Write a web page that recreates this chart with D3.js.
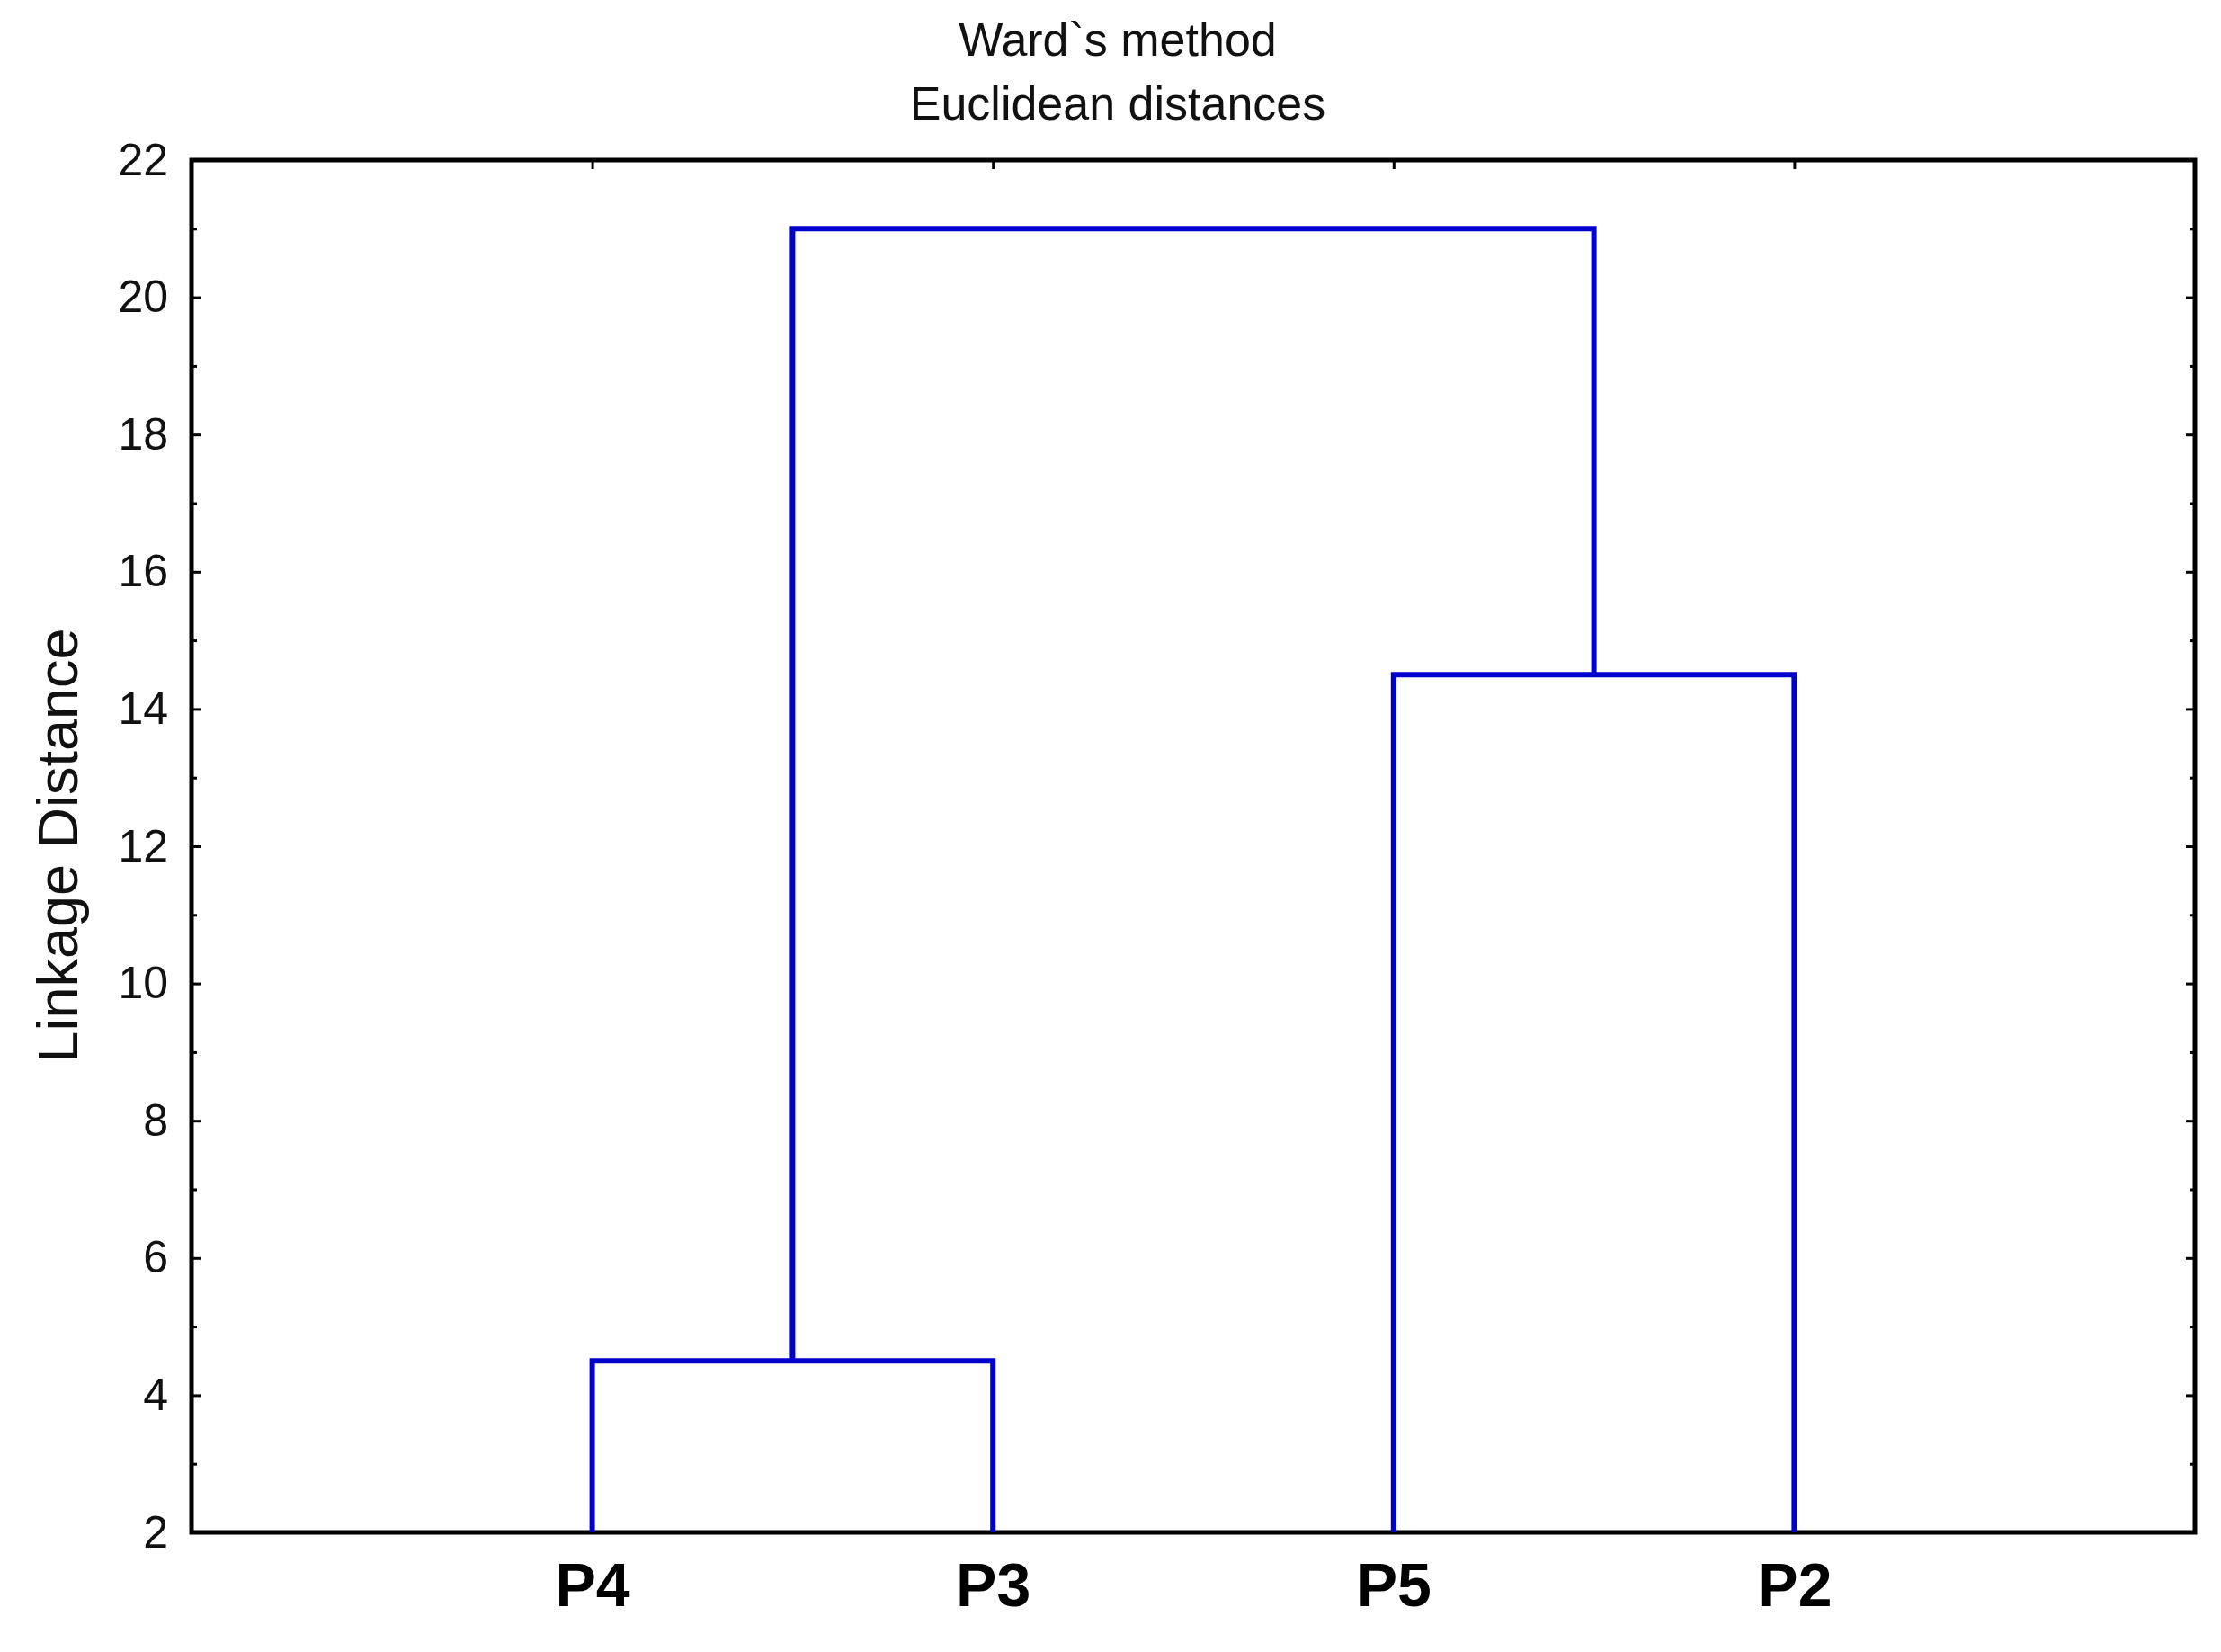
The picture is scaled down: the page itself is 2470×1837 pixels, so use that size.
<!DOCTYPE html>
<html>
<head>
<meta charset="utf-8">
<script src="https://cdn.jsdelivr.net/npm/d3@7"></script>
<style>
  body { margin: 0; background: #fff; }
  svg { display: block; font-family: "Liberation Sans", Arial, sans-serif; }
</style>
</head>
<body>
<svg id="chart"></svg>
<script>
// leaves in the order they appear on the x axis
var leaves = ["P4", "P3", "P5", "P2"];
// each join: the two members and the linkage distance where they join
var joinLeft = ["P4", "P5", "C1"];
var joinRight = ["P3", "P2", "C2"];
var joinHeight = [4.5, 14.5, 21.0];
var joinName = ["C1", "C2", "C3"];
var yTicks = [2, 4, 6, 8, 10, 12, 14, 16, 18, 20, 22];
var yMinor = [3, 5, 7, 9, 11, 13, 15, 17, 19, 21];
var titleLines = ["Ward`s method", "Euclidean distances"];

var W = 2470, H = 1837;
var margin = { top: 178, right: 29, bottom: 133, left: 213 };
var w = W - margin.left - margin.right,
    h = H - margin.top - margin.bottom;

var svg = d3.select("#chart").attr("width", W).attr("height", H);
var g = svg.append("g").attr("transform", `translate(${margin.left}, ${margin.top})`);

var x_scale = d3.scaleLinear().domain([0, leaves.length + 1]).range([0, w]);
var y_scale = d3.scaleLinear().domain([2, 22]).range([h, 0]);

// position of every node: leaves sit on the axis floor
var pos = {};
leaves.forEach((d, i) => { pos[d] = { x: i + 1, y: y_scale.domain()[0] }; });
var links = joinName.map((name, i) => {
  var a = pos[joinLeft[i]], b = pos[joinRight[i]];
  pos[name] = { x: (a.x + b.x) / 2, y: joinHeight[i] };
  return { a: a, b: b, h: joinHeight[i] };
});

// axes
var leftAxis = g.append("g").attr("class", "y_axis_g")
  .call(d3.axisLeft(y_scale).tickValues(yTicks).tickSize(-10).tickPadding(26));
g.append("g").call(d3.axisLeft(y_scale).tickValues(yMinor).tickSize(-6).tickFormat(""));
g.append("g").attr("transform", `translate(${w},0)`)
  .call(d3.axisRight(y_scale).tickValues(yTicks).tickSize(-10).tickFormat(""));
g.append("g").attr("transform", `translate(${w},0)`)
  .call(d3.axisRight(y_scale).tickValues(yMinor).tickSize(-6).tickFormat(""));
g.append("g")
  .call(d3.axisTop(x_scale).tickValues(leaves.map((d, i) => i + 1)).tickSize(-10).tickFormat(""));
var bottomAxis = g.append("g").attr("class", "x_axis_g").attr("transform", `translate(0, ${h})`)
  .call(d3.axisBottom(x_scale).tickValues(leaves.map((d, i) => i + 1))
    .tickSize(-10).tickPadding(34).tickFormat(d => leaves[d - 1]));

g.selectAll(".domain").remove();
g.selectAll(".tick line").attr("stroke", "#000").attr("stroke-width", 3);
leftAxis.selectAll("text").style("font-size", "50px").attr("fill", "#111");
bottomAxis.selectAll("text").style("font-size", "68px").style("font-weight", "bold")
  .attr("fill", "#000").attr("dy", "0.71em");

// frame
g.append("rect").attr("x", 0).attr("y", 0).attr("width", w).attr("height", h)
  .attr("fill", "none").attr("stroke", "#000").attr("stroke-width", 5);

// dendrogram elbows
g.selectAll(".link")
  .data(links)
  .join("path")
  .attr("class", "link")
  .attr("d", d => {
    var path = d3.path();
    path.moveTo(x_scale(d.a.x), y_scale(d.a.y));
    path.lineTo(x_scale(d.a.x), y_scale(d.h));
    path.lineTo(x_scale(d.b.x), y_scale(d.h));
    path.lineTo(x_scale(d.b.x), y_scale(d.b.y));
    return path.toString();
  })
  .attr("fill", "none")
  .attr("stroke", "#0000cc")
  .attr("stroke-width", 6)
  .attr("stroke-linejoin", "miter");

// title, sits a little left of the plot centre
svg.selectAll(".chart-title")
  .data(titleLines)
  .join("text")
  .attr("class", "chart-title")
  .attr("x", 1243)
  .attr("y", (d, i) => 62 + i * 71)
  .attr("text-anchor", "middle")
  .style("font-size", "52px")
  .attr("fill", "#111")
  .text(d => d);

// y axis label
svg.append("text")
  .attr("class", "y-axis-label")
  .attr("transform", `translate(86, 940) rotate(-90)`)
  .attr("text-anchor", "middle")
  .style("font-size", "63px")
  .attr("fill", "#111")
  .text("Linkage Distance");
</script>
</body>
</html>
